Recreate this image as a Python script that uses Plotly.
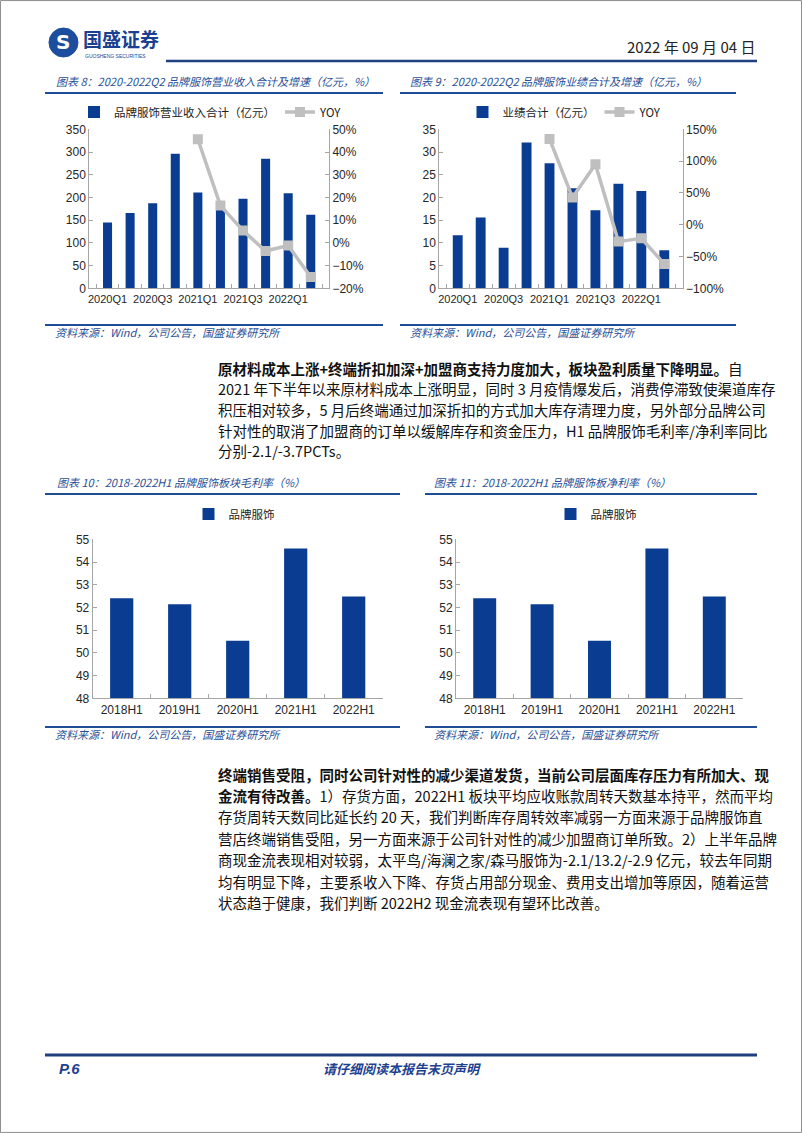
import plotly.graph_objects as go

# ---------------- data ----------------
quarters = ['2020Q1', '2020Q2', '2020Q3', '2020Q4', '2021Q1', '2021Q2',
            '2021Q3', '2021Q4', '2022Q1', '2022Q2']
revenue = [145, 166, 187, 296, 211, 173, 197, 285, 209, 162]
revenue_yoy = [None, None, None, None, 45.6, 16.4, 5.4, -3.6, -1.2, -15.0]
profit = [11.7, 15.6, 8.9, 32.1, 27.5, 22.0, 17.2, 23.0, 21.4, 8.4]
profit_yoy = [None, None, None, None, 134.8, 42.6, 95.0, -26.6, -21.4, -61.7]
halves = ['2018H1', '2019H1', '2020H1', '2021H1', '2022H1']
gross_margin = [52.40, 52.14, 50.53, 54.59, 52.48]
net_margin = [52.40, 52.14, 50.53, 54.59, 52.48]
quarter_ticktext = [q if i % 2 == 0 else '' for i, q in enumerate(quarters)]

W, H = 802, 1133
def X(px): return px / W
def Y(py): return 1 - py / H

BAR = '#0A3D91'
GRAY_LINE = '#BFBFBF'
AXIS = '#A6A6A6'
BLUE_T = '#1F4E96'
CJK = 'Noto Sans CJK SC'
LAT = 'Liberation Sans, Arial, sans-serif'
tickfont = dict(family=LAT, size=12, color='#262626')
qtickfont = dict(family=LAT, size=11, color='#262626')

fig = go.Figure()

# chart 8
fig.add_trace(go.Bar(x=quarters, y=revenue, name='品牌服饰营业收入合计（亿元）',
                     marker=dict(color=BAR, line=dict(width=0)), width=0.4,
                     xaxis='x', yaxis='y', legend='legend'))
fig.add_trace(go.Scatter(x=quarters, y=revenue_yoy, name='YOY', mode='lines+markers',
                         line=dict(color=GRAY_LINE, width=3.5),
                         marker=dict(symbol='square', size=10, color=GRAY_LINE),
                         xaxis='x', yaxis='y2', legend='legend'))
# chart 9
fig.add_trace(go.Bar(x=quarters, y=profit, name='业绩合计（亿元）',
                     marker=dict(color=BAR, line=dict(width=0)), width=0.43,
                     xaxis='x3', yaxis='y3', legend='legend2'))
fig.add_trace(go.Scatter(x=quarters, y=profit_yoy, name='YOY', mode='lines+markers',
                         line=dict(color=GRAY_LINE, width=3.5),
                         marker=dict(symbol='square', size=10, color=GRAY_LINE),
                         xaxis='x3', yaxis='y4', legend='legend2'))
# chart 10
fig.add_trace(go.Bar(x=halves, y=gross_margin, name='品牌服饰',
                     marker=dict(color=BAR, line=dict(width=0)), width=0.4,
                     xaxis='x5', yaxis='y5', legend='legend3'))
# chart 11
fig.add_trace(go.Bar(x=halves, y=net_margin, name='品牌服饰',
                     marker=dict(color=BAR, line=dict(width=0)), width=0.4,
                     xaxis='x6', yaxis='y6', legend='legend4'))

def xax(d0, d1, anchor, ticktext=None, vals=None, font=tickfont):
    a = dict(domain=[X(d0), X(d1)], anchor=anchor, showline=True, linecolor=AXIS,
             linewidth=1, ticks='inside', ticklen=4, tickcolor=AXIS,
             tickson='boundaries', tickfont=font, showgrid=False, fixedrange=True,
             tickangle=0, automargin=False)
    if ticktext is not None:
        a.update(tickmode='array', tickvals=vals, ticktext=ticktext)
    return a

def yax(top, bot, anchor, rng, dtick, side='left', suffix='', overlay=None):
    a = dict(anchor=anchor, range=rng, dtick=dtick, showline=True, linecolor=AXIS,
             linewidth=1, ticks='inside', ticklen=4, tickcolor=AXIS, showgrid=False,
             zeroline=False, tickfont=tickfont, side=side, ticksuffix=suffix,
             fixedrange=True, automargin=False)
    if overlay:
        a['overlaying'] = overlay
    else:
        a['domain'] = [Y(bot), Y(top)]
    return a

fig.update_layout(
    width=W, height=H, autosize=False,
    margin=dict(l=0, r=0, t=0, b=0),
    paper_bgcolor='white', plot_bgcolor='white',
    font=dict(family=CJK, color='#222'),
    xaxis=xax(89.3, 329, 'y', quarter_ticktext, quarters, qtickfont),
    yaxis=yax(129.3, 288.3, 'x', [0, 350], 50),
    yaxis2=yax(129.3, 288.3, 'x', [-20, 50], 10, side='right', suffix='%', overlay='y'),
    xaxis3=xax(439.3, 682.7, 'y3', quarter_ticktext, quarters, qtickfont),
    yaxis3=yax(129.3, 288.3, 'x3', [0, 35], 5),
    yaxis4=yax(129.3, 288.3, 'x3', [-100, 150], 50, side='right', suffix='%', overlay='y3'),
    xaxis5=xax(92.7, 382.7, 'y5'),
    yaxis5=yax(539.3, 698.3, 'x5', [48, 55], 1),
    xaxis6=xax(456, 743, 'y6'),
    yaxis6=yax(539.3, 698.3, 'x6', [48, 55], 1),
    showlegend=True,
)
legfont = dict(family=CJK, size=11.5, color='#222')
fig.update_layout(
    legend=dict(x=X(211), y=Y(112), xanchor='center', yanchor='middle', orientation='h',
                font=legfont, bgcolor='rgba(0,0,0,0)', itemwidth=30, tracegroupgap=0),
    legend2=dict(x=X(565), y=Y(112), xanchor='center', yanchor='middle', orientation='h',
                 font=legfont, bgcolor='rgba(0,0,0,0)', itemwidth=30),
    legend3=dict(x=X(234), y=Y(514), xanchor='center', yanchor='middle', orientation='h',
                 font=legfont, bgcolor='rgba(0,0,0,0)', itemwidth=30),
    legend4=dict(x=X(596), y=Y(514), xanchor='center', yanchor='middle', orientation='h',
                 font=legfont, bgcolor='rgba(0,0,0,0)', itemwidth=30),
)

shapes = []
def hline(x0, x1, y, color=BLUE_T, width=2):
    shapes.append(dict(type='line', xref='paper', yref='paper', x0=X(x0), x1=X(x1),
                       y0=Y(y), y1=Y(y), line=dict(color=color, width=width)))

# page border
shapes.append(dict(type='rect', xref='paper', yref='paper', x0=0.0006, x1=0.9994,
                   y0=0.0005, y1=0.9995, line=dict(color='#8C8C8C', width=1)))
# header
hline(166, 757, 61, '#1F3F7F', 2.5)
shapes.append(dict(type='circle', xref='paper', yref='paper', x0=X(49), x1=X(78),
                   y0=Y(57), y1=Y(28), fillcolor='#1D4E9E', line=dict(color='#1D4E9E', width=1)))
# chart title lines
hline(45, 383, 93)
hline(400, 736, 93)
hline(45, 400, 494)
hline(425, 757, 494)
# source lines
hline(45, 383, 325)
hline(400, 736, 325)
hline(45, 400, 727)
hline(425, 757, 727)
# footer
hline(45, 757, 1055, '#1F3F7F', 3)

anns = []
def txt(x, y, s, size=14.5, color='#111', anchor='left', family=CJK):
    anns.append(dict(xref='paper', yref='paper', x=X(x), y=Y(y), text=s, showarrow=False,
                     xanchor=anchor, yanchor='middle',
                     font=dict(family=family, size=size, color=color)))

# header text
txt(63.5, 42.5, '<b>S</b>', 20, 'white', 'center', 'DejaVu Sans')
txt(81, 38, '<b>国盛证券</b>', 19, '#1C3F8F')
txt(83, 55.5, 'GUOSHENG SECURITIES', 5, '#1C3F8F', 'left', LAT)
txt(757, 47, '2022 年 09 月 04 日', 15, '#222', 'right')

# chart titles
tcol = '#2A4F96'
txt(54, 81, '<i>图表 8：2020-2022Q2 品牌服饰营业收入合计及增速（亿元，%）</i>', 11, tcol)
txt(408, 81, '<i>图表 9：2020-2022Q2 品牌服饰业绩合计及增速（亿元，%）</i>', 11, tcol)
txt(55, 482, '<i>图表 10：2018-2022H1 品牌服饰板块毛利率（%）</i>', 11, tcol)
txt(432, 482, '<i>图表 11：2018-2022H1 品牌服饰板净利率（%）</i>', 11, tcol)
# sources
src = '<i>资料来源：Wind，公司公告，国盛证券研究所</i>'
txt(53, 332, src, 11, tcol)
txt(408, 332, src, 11, tcol)
txt(53, 734, src, 11, tcol)
txt(432, 734, src, 11, tcol)

# paragraph 1
p1 = [
    '<b>原材料成本上涨+终端折扣加深+加盟商支持力度加大，板块盈利质量下降明显。</b>自',
    '2021 年下半年以来原材料成本上涨明显，同时 3 月疫情爆发后，消费停滞致使渠道库存',
    '积压相对较多，5 月后终端通过加深折扣的方式加大库存清理力度，另外部分品牌公司',
    '针对性的取消了加盟商的订单以缓解库存和资金压力，H1 品牌服饰毛利率/净利率同比',
    '分别-2.1/-3.7PCTs。',
]
for i, s in enumerate(p1):
    txt(216, 368 + i * 20.7, s)

p2 = [
    '<b>终端销售受阻，同时公司针对性的减少渠道发货，当前公司层面库存压力有所加大、现</b>',
    '<b>金流有待改善。</b>1）存货方面，2022H1 板块平均应收账款周转天数基本持平，然而平均',
    '存货周转天数同比延长约 20 天，我们判断库存周转效率减弱一方面来源于品牌服饰直',
    '营店终端销售受阻，另一方面来源于公司针对性的减少加盟商订单所致。2）上半年品牌',
    '商现金流表现相对较弱，太平鸟/海澜之家/森马服饰为-2.1/13.2/-2.9 亿元，较去年同期',
    '均有明显下降，主要系收入下降、存货占用部分现金、费用支出增加等原因，随着运营',
    '状态趋于健康，我们判断 2022H2 现金流表现有望环比改善。',
]
for i, s in enumerate(p2):
    txt(216, 774 + i * 21.4, s)

# footer
txt(57, 1068, '<b><i>P.6</i></b>', 15, '#1F3F8F', 'left', LAT)
txt(402, 1068, '<b><i>请仔细阅读本报告末页声明</i></b>', 13, '#1F3F8F', 'center')

fig.update_layout(shapes=shapes, annotations=anns)
fig.write_html('out.html')
